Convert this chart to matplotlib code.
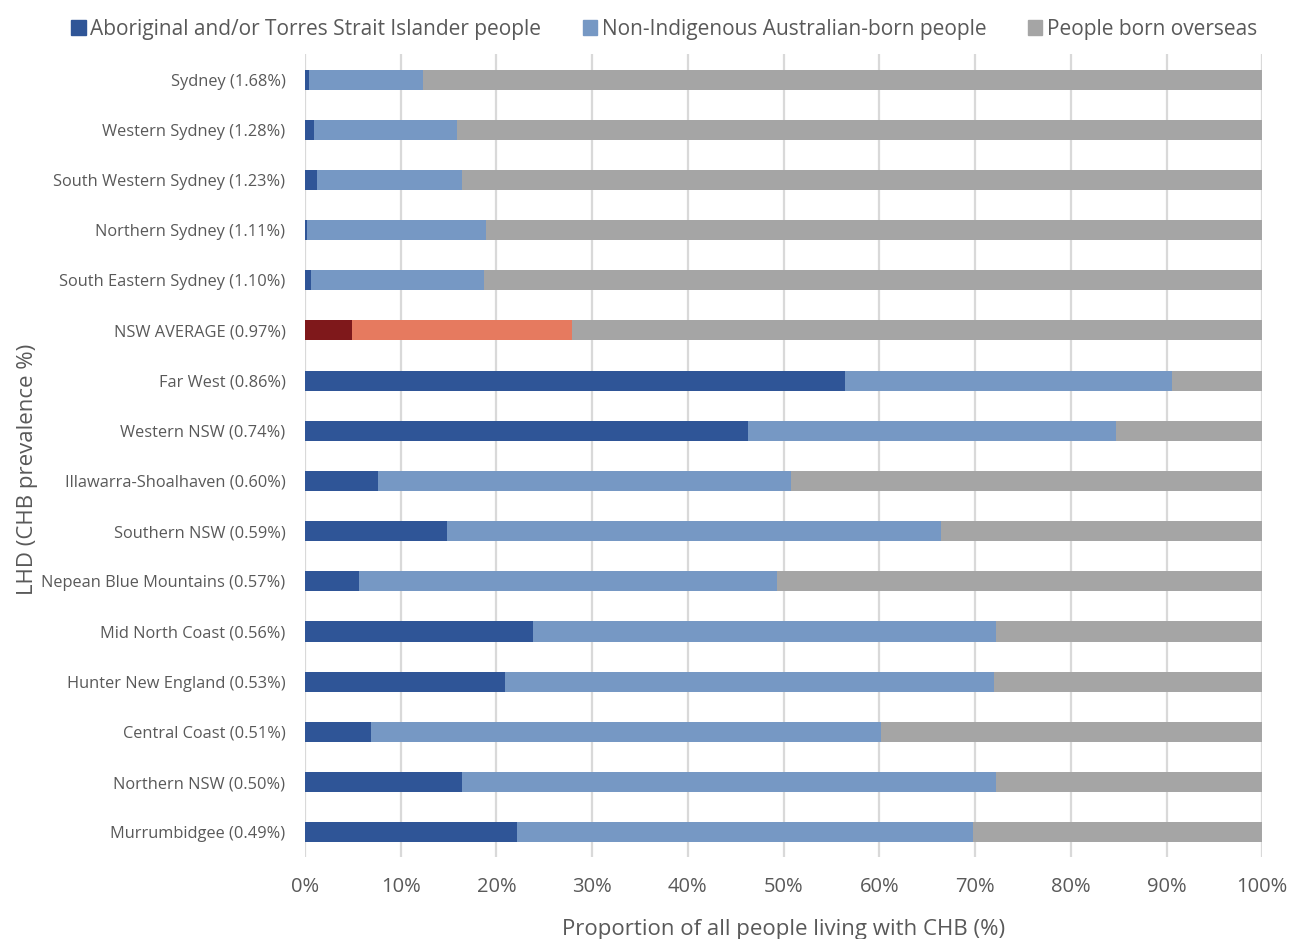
import matplotlib
matplotlib.use("Agg")
import matplotlib.pyplot as plt
import numpy as np

# dane (%)
regiony = ["Sydney (1.68%)", "Western Sydney (1.28%)", "South Western Sydney (1.23%)",
           "Northern Sydney (1.11%)", "South Eastern Sydney (1.10%)", "NSW AVERAGE (0.97%)",
           "Far West (0.86%)", "Western NSW (0.74%)", "Illawarra-Shoalhaven (0.60%)",
           "Southern NSW (0.59%)", "Nepean Blue Mountains (0.57%)", "Mid North Coast (0.56%)",
           "Hunter New England (0.53%)", "Central Coast (0.51%)", "Northern NSW (0.50%)",
           "Murrumbidgee (0.49%)"]
aborygeni = [0.4, 0.9, 1.3, 0.2, 0.6, 4.9, 56.4, 46.3, 7.6, 14.8, 5.7, 23.8, 20.9, 6.9, 16.4, 22.2]
australijczycy = [11.9, 15.0, 15.1, 18.7, 18.1, 23.0, 34.2, 38.4, 43.2, 51.6, 43.6, 48.4, 51.1, 53.3, 55.8, 47.6]
zagranica = [87.7, 84.1, 83.6, 81.1, 81.3, 72.1, 9.4, 15.3, 49.2, 33.6, 50.7, 27.8, 28.0, 39.8, 27.8, 30.2]
serie = ["Aboriginal and/or Torres Strait Islander people",
         "Non-Indigenous Australian-born people", "People born overseas"]
xticki = [0, 10, 20, 30, 40, 50, 60, 70, 80, 90, 100]

kolory = ["#2F5597", "#7698C4", "#A5A5A5"]
kolory_nsw = ["#7F181B", "#E67A5F", "#A5A5A5"]
szary = "#595959"

plt.rcParams['font.family'] = ['Open Sans', 'DejaVu Sans']

fig = plt.figure(figsize=(12.92, 9.39), dpi=100)
ax = fig.add_axes([0.236, 0.087, 0.741, 0.855])

y = np.arange(len(regiony))
lewo = np.zeros(len(regiony))
for i, wart in enumerate([aborygeni, australijczycy, zagranica]):
    wart = np.array(wart)
    kol = [kolory_nsw[i] if r.startswith("NSW AVERAGE") else kolory[i] for r in regiony]
    ax.barh(y, wart, left=lewo, height=0.4, color=kol, label=serie[i], zorder=3)
    lewo = lewo + wart

ax.set_ylim(len(regiony) - 0.5, -0.5)
ax.set_xlim(0, 100)
ax.set_yticks(y)
ax.set_yticklabels(regiony, fontsize=11.8, color=szary)
ax.set_xticks(xticki)
ax.set_xticklabels([f"{t}%" for t in xticki], fontsize=14.5, color=szary)
ax.tick_params(axis='both', length=0)
ax.tick_params(axis='y', pad=14)
ax.tick_params(axis='x', pad=14)
ax.grid(axis='x', color="#D9D9D9", linewidth=1.6, zorder=0)
for s in ax.spines.values():
    s.set_visible(False)

ax.set_xlabel("Proportion of all people living with CHB (%)", fontsize=16, color=szary, labelpad=16)
fig.text(0.021, 0.5, "LHD (CHB prevalence %)", rotation=90, fontsize=16, color=szary,
         ha='center', va='center')

uchwyty = [plt.Rectangle((0, 0), 1, 1, color=k) for k in kolory]
fig.legend(uchwyty, serie, loc='upper center', bbox_to_anchor=(0.514, 1.0), ncol=3,
           frameon=False, fontsize=15, labelcolor=szary, handlelength=0.7, handleheight=0.7,
           handletextpad=0.2, columnspacing=2.0)

fig.savefig("out.png", dpi=100)
